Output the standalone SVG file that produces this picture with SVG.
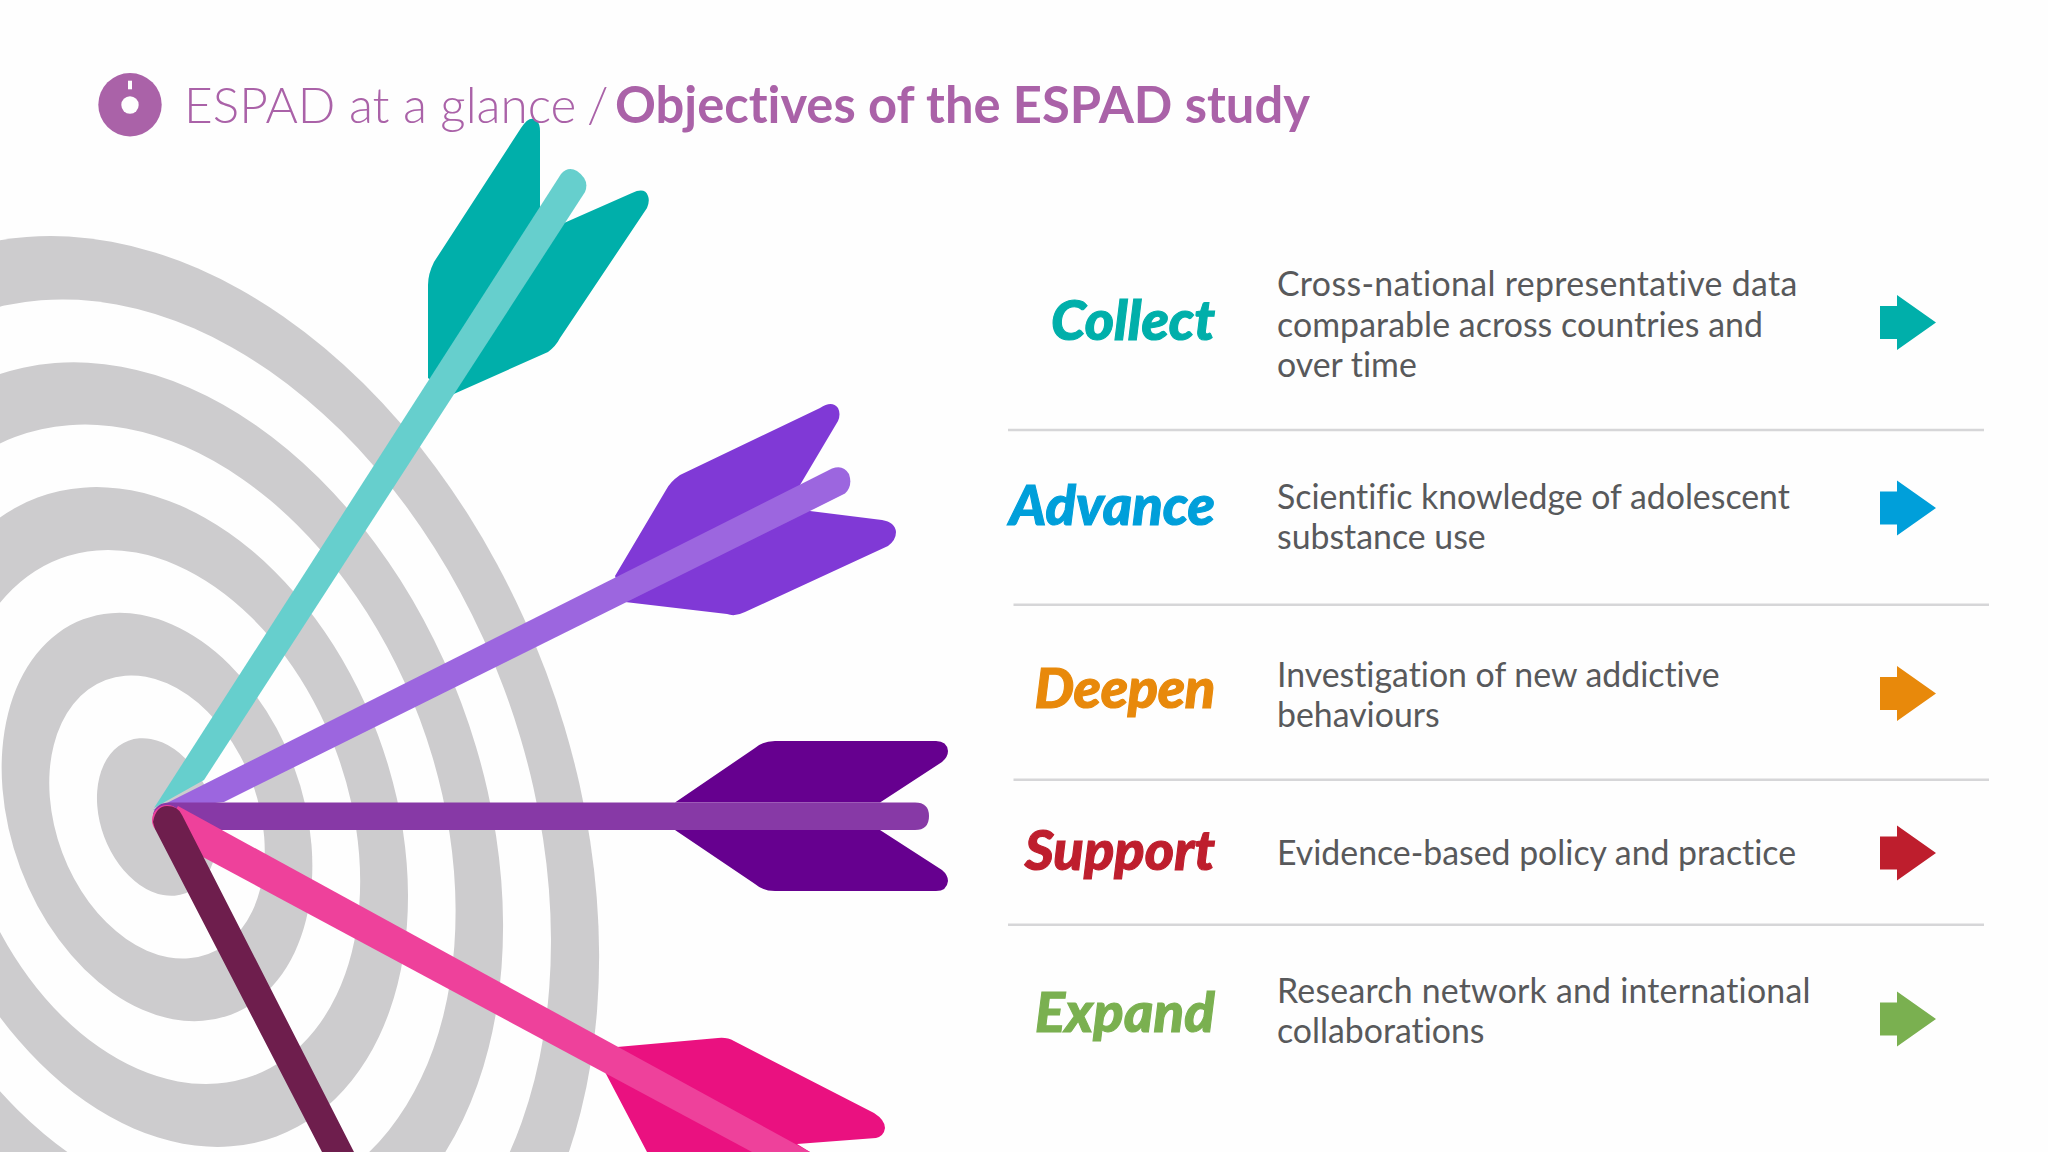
<svg xmlns="http://www.w3.org/2000/svg" width="2048" height="1152" viewBox="0 0 2048 1152">
<style>
.t{font-family:"Lato","Liberation Sans",sans-serif;font-variant-ligatures:none}
.h{fill:#AA62A8}
.l{font-size:56px;font-weight:900;font-style:italic;text-anchor:end;stroke-width:1.1px}
.b{font-size:33.85px;fill:#58595B}
.sep{stroke:#D6D6D8;stroke-width:2.5;fill:none}
.g{fill:#CDCCCE}.w{fill:#FEFEFE}
</style>
<defs><path id="ar" d="M0-16.5H17V-27.5L56 0 17 27.5V16.5H0Z"/></defs>
<rect width="2048" height="1152" fill="#FEFEFE"/>
<g id="target" transform="translate(157 817) rotate(69.5)">
<ellipse class="g" rx="600.5" ry="415.2"/>
<ellipse class="w" rx="535" ry="370"/>
<ellipse class="g" rx="470" ry="325"/>
<ellipse class="w" rx="405.6" ry="280.4"/>
<ellipse class="g" rx="341" ry="235.7"/>
<ellipse class="w" rx="276" ry="190.8"/>
<ellipse class="g" rx="211" ry="145.9"/>
<ellipse class="w" rx="146.3" ry="101.2"/>
<ellipse class="g" rx="81.5" ry="56.4"/>
</g>
<g id="arrow-teal">
<path fill="#00AFAA" d="M521 128Q530 114 537 121Q540 124 540 131L540 208 564 223 632 193Q645 187 648 196Q650 201 647 208L560 338Q556 346 548 352L451.5 395 428 378V285Q428 274 434 262Z"/>
<path fill="#66CFCD" d="M154 808L561 174Q568 166 577 171Q590 180 585 192L204 780Z"/>
</g>
<g id="arrow-violet">
<path fill="#8039D6" d="M820 408Q832 400 838 408Q841 414 838 421L800 485 810 511 882 520Q895 522 896 532Q896 540 888 546L745 612Q735 617 727 614L625 602 615 576 666 490Q670 482 680 475Z"/>
<path fill="#9C66DF" d="M153 810L832 468.6Q843 464 849 474Q853 486 845 493.6L224 802Z"/>
</g>
<g id="arrow-indigo">
<path fill="#66008F" d="M675 802.5L755 748Q763 741 775 741H936Q947 741 948 751Q948 757 942 762L880 802.5ZM675 830L755 884Q763 891 775 891H936Q947 891 948 881Q948 875 942 870L880 830Z"/>
<path fill="#8739A6" d="M153 814Q156 802.5 170 802.5H915Q929 802.5 929 816Q929 830 915 830H217L160 830Z"/>
</g>
<g id="arrow-pink">
<path fill="#EA1180" d="M617 1047L718 1038Q727 1037 734 1041L874 1113Q885 1120 885 1128Q884 1136 876 1138L797 1144 810 1152H647L605 1072Z"/>
<circle cx="167" cy="820" r="15" fill="#EE419B"/>
<path fill="#EE419B" d="M178 806L810 1152H752L160 834Z"/>
</g>
<g id="arrow-maroon">
<path fill="#6E1E4D" d="M153 822Q156 806 167 806Q178 806 182 815L354 1152H322L155 829Z"/>
</g>
<g id="header">
<circle cx="130" cy="104.7" r="31.7" fill="#AA62A8"/>
<circle cx="130" cy="105" r="8.7" fill="#FEFEFE"/>
<rect x="128" y="80.7" width="4" height="8.6" fill="#FEFEFE"/>
<text class="t h" x="184" y="122.5" font-weight="300" font-size="49.5">ESPAD at a glance <tspan x="587">/</tspan></text>
<text class="t h" x="615" y="122.5" font-weight="700" font-size="50.7">Objectives of the ESPAD study</text>
</g>
<g id="separators">
<path class="sep" d="M1008 430H1984M1013.5 604.7H1989M1013.5 779.7H1989M1008 924.7H1984"/>
</g>
<g id="row-collect">
<text class="t l" x="1215" y="340" fill="#00AFAA" stroke="#00AFAA">Collect</text>
<text class="t b" x="1277" y="296" letter-spacing="0.36">Cross-national representative data</text>
<text class="t b" x="1277" y="337" letter-spacing="0.08">comparable across countries and</text>
<text class="t b" x="1277" y="377">over time</text>
<use href="#ar" x="1880" y="322.6" fill="#00AFAA"/>
</g>
<g id="row-advance">
<text class="t l" x="1215" y="525" fill="#009FDA" stroke="#009FDA">Advance</text>
<text class="t b" x="1277" y="509">Scientific knowledge of adolescent</text>
<text class="t b" x="1277" y="549">substance use</text>
<use href="#ar" x="1880" y="508" fill="#009FDA"/>
</g>
<g id="row-deepen">
<text class="t l" x="1215" y="708" fill="#E8890B" stroke="#E8890B" letter-spacing="-0.4">Deepen</text>
<text class="t b" x="1277" y="687">Investigation of new addictive</text>
<text class="t b" x="1277" y="727">behaviours</text>
<use href="#ar" x="1880" y="693.5" fill="#E8890B"/>
</g>
<g id="row-support">
<text class="t l" x="1215" y="870" fill="#BE1E2D" stroke="#BE1E2D">Support</text>
<text class="t b" x="1277" y="865">Evidence-based policy and practice</text>
<use href="#ar" x="1880" y="853" fill="#BE1E2D"/>
</g>
<g id="row-expand">
<text class="t l" x="1215" y="1032" fill="#7AB050" stroke="#7AB050" letter-spacing="0.2">Expand</text>
<text class="t b" x="1277" y="1003" letter-spacing="0.23">Research network and international</text>
<text class="t b" x="1277" y="1043">collaborations</text>
<use href="#ar" x="1880" y="1019" fill="#7AB050"/>
</g>
</svg>
